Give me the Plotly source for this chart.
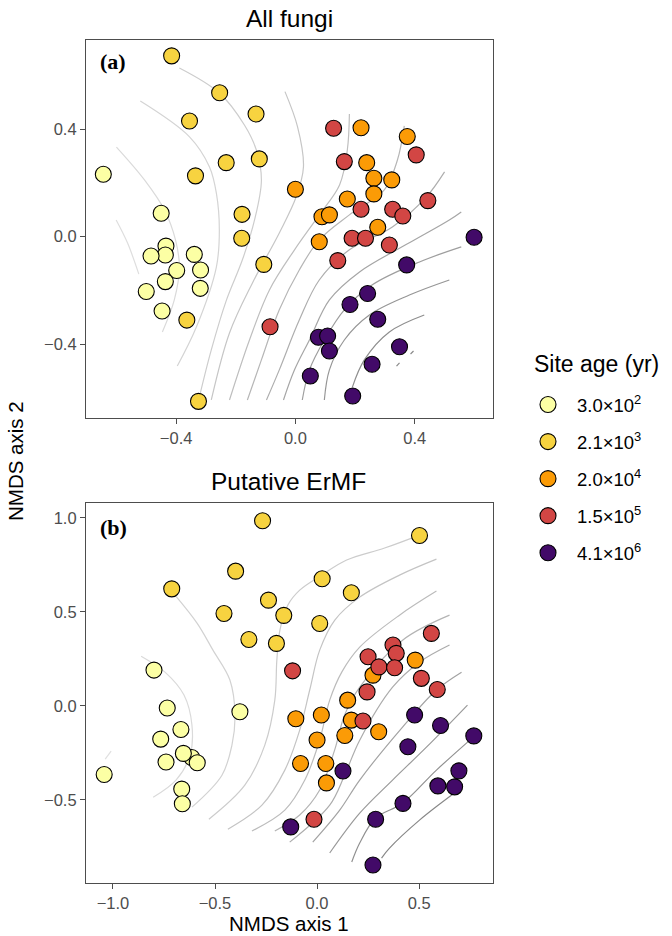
import plotly.graph_objects as go

# ---------------- data ----------------
age_labels = ["3.0×10<sup>2</sup>", "2.1×10<sup>3</sup>", "2.0×10<sup>4</sup>",
              "1.5×10<sup>5</sup>", "4.1×10<sup>6</sup>"]
age_colors = ["#FCFFA4", "#F7D340", "#FB9B06", "#D24644", "#420A68"]

# Panel (a) All fungi: NMDS scores per site-age group
a_x = [
    [-0.644, -0.450, -0.434, -0.436, -0.484, -0.339, -0.398, -0.318, -0.436, -0.319, -0.500, -0.447],
    [-0.415, -0.254, -0.132, -0.355, -0.232, -0.121, -0.335, -0.179, -0.180, -0.325, -0.106, -0.364],
    [0.000, 0.220, 0.375, 0.239, 0.263, 0.323, 0.263, 0.174, 0.089, 0.114, 0.276, 0.080],
    [0.128, 0.405, 0.164, 0.220, 0.326, 0.360, 0.444, 0.190, 0.235, 0.315, 0.142, -0.085],
    [0.373, 0.242, 0.183, 0.276, 0.077, 0.108, 0.114, 0.349, 0.257, 0.050, 0.192, 0.599],
]
a_y = [
    [0.232, 0.087, -0.035, -0.068, -0.072, -0.066, -0.126, -0.124, -0.167, -0.192, -0.204, -0.276],
    [0.672, 0.535, 0.456, 0.430, 0.275, 0.289, 0.226, 0.083, -0.006, -0.612, -0.103, -0.310],
    [0.176, 0.405, 0.372, 0.275, 0.217, 0.211, 0.159, 0.140, 0.074, 0.081, 0.035, -0.019],
    [0.403, 0.304, 0.279, 0.102, 0.102, 0.077, 0.134, -0.006, -0.006, -0.031, -0.089, -0.335],
    [-0.105, -0.211, -0.252, -0.307, -0.374, -0.369, -0.425, -0.409, -0.474, -0.518, -0.592, -0.002],
]

# Panel (b) Putative ErMF
b_x = [
    [-0.799, -0.378, -0.734, -0.667, -0.766, -0.740, -0.614, -0.655, -0.587, -0.663, -0.660, -1.043],
    [-0.267, 0.502, -0.399, -0.712, 0.025, 0.168, -0.238, -0.456, -0.163, 0.013, -0.334, -0.199],
    [-0.104, 0.021, 0.150, 0.000, 0.168, 0.136, 0.302, -0.081, 0.043, 0.046, 0.274, 0.481],
    [-0.120, 0.250, 0.372, 0.388, 0.303, 0.380, 0.245, 0.511, 0.225, -0.015, 0.560, 0.589],
    [-0.129, 0.127, 0.478, 0.445, 0.287, 0.421, 0.274, 0.592, 0.605, 0.768, 0.695, 0.674],
]
b_y = [
    [0.190, -0.032, -0.012, -0.126, -0.177, -0.299, -0.275, -0.253, -0.303, -0.443, -0.521, -0.365],
    [0.984, 0.906, 0.716, 0.622, 0.676, 0.601, 0.562, 0.491, 0.481, 0.438, 0.353, 0.332],
    [-0.069, -0.049, 0.030, -0.182, -0.076, -0.158, -0.138, -0.307, -0.307, -0.410, 0.163, 0.243],
    [0.186, 0.261, 0.323, 0.279, 0.207, 0.202, 0.074, 0.146, -0.081, -0.603, 0.385, 0.087],
    [-0.644, -0.347, -0.049, -0.218, -0.603, -0.519, -0.847, -0.426, -0.105, -0.160, -0.346, -0.431],
]

# Fitted site-age surface contours, light -> dark
a_contours = [
    ([-0.601, -0.563, -0.525], [0.062, -0.023, -0.139]),
    ([-0.600, -0.506, -0.439, -0.402, -0.389, -0.406, -0.446], [0.333, 0.211, 0.099, -0.012, -0.113, -0.235, -0.354]),
    ([-0.520, -0.355, -0.288, -0.265, -0.255, -0.265, -0.332, -0.396], [0.504, 0.371, 0.259, 0.162, 0.025, -0.113, -0.336, -0.481]),
    ([-0.389, -0.255, -0.171, -0.131, -0.114, -0.137, -0.178, -0.231, -0.282, -0.322], [0.627, 0.534, 0.415, 0.322, 0.211, 0.062, -0.087, -0.235, -0.421, -0.596]),
    ([-0.035, 0.007, 0.027, 0.003, -0.054, -0.144, -0.221, -0.282], [0.539, 0.409, 0.260, 0.149, 0.014, -0.172, -0.358, -0.607]),
    ([0.181, 0.174, 0.148, 0.080, -0.003, -0.087, -0.154, -0.221], [0.456, 0.322, 0.192, 0.081, -0.049, -0.198, -0.384, -0.607]),
    ([0.365, 0.342, 0.298, 0.181, 0.080, 0.013, -0.054, -0.114, -0.161], [0.412, 0.285, 0.174, 0.081, -0.012, -0.124, -0.272, -0.458, -0.607]),
    ([0.500, 0.439, 0.325, 0.181, 0.080, 0.013, -0.054, -0.097], [0.241, 0.148, 0.036, -0.049, -0.161, -0.310, -0.495, -0.607]),
    ([0.556, 0.516, 0.382, 0.215, 0.114, 0.047, -0.003, -0.040], [0.092, 0.062, -0.023, -0.131, -0.235, -0.384, -0.495, -0.607]),
    ([0.556, 0.416, 0.258, 0.164, 0.097, 0.047, 0.023], [-0.038, -0.094, -0.179, -0.272, -0.384, -0.495, -0.607]),
    ([0.516, 0.382, 0.248, 0.164, 0.114, 0.097], [-0.161, -0.217, -0.291, -0.384, -0.495, -0.607]),
    ([0.432, 0.315, 0.231, 0.191], [-0.291, -0.354, -0.458, -0.559]),
    ([0.386, 0.396], [-0.436, -0.425]),
    ([0.339, 0.349], [-0.481, -0.469]),
]
a_contour_grey = [222, 218, 212, 205, 198, 190, 182, 174, 166, 158, 150, 142, 136, 136]

b_contours = [
    ([-1.038, -1.009], [-0.284, -0.241]),
    ([-0.862, -0.745, -0.652, -0.613, -0.622, -0.691, -0.803], [0.264, 0.179, 0.057, -0.103, -0.262, -0.395, -0.486]),
    ([-0.696, -0.588, -0.510, -0.427, -0.402, -0.417, -0.466, -0.613], [0.589, 0.440, 0.296, 0.137, -0.049, -0.209, -0.369, -0.539]),
    ([0.502, 0.331, 0.145, 0.023, -0.085, -0.143, -0.182, -0.197, -0.207, -0.256, -0.354, -0.530], [0.908, 0.839, 0.775, 0.695, 0.615, 0.536, 0.403, 0.243, 0.030, -0.209, -0.422, -0.603]),
    ([0.585, 0.404, 0.209, 0.087, 0.013, -0.036, -0.085, -0.158, -0.270, -0.437], [0.780, 0.695, 0.578, 0.456, 0.296, 0.084, -0.129, -0.342, -0.528, -0.656]),
    ([0.585, 0.404, 0.209, 0.121, 0.062, 0.013, -0.060, -0.158, -0.319], [0.610, 0.482, 0.312, 0.179, 0.030, -0.182, -0.395, -0.555, -0.666]),
    ([0.649, 0.419, 0.209, 0.135, 0.086, 0.013, -0.085, -0.207], [0.482, 0.349, 0.099, -0.049, -0.236, -0.448, -0.581, -0.666]),
    ([0.649, 0.502, 0.370, 0.209, 0.135, 0.062, -0.134], [0.323, 0.232, 0.099, -0.183, -0.369, -0.528, -0.725]),
    ([0.708, 0.585, 0.419, 0.209, 0.111, -0.021], [0.179, 0.084, -0.113, -0.395, -0.555, -0.725]),
    ([0.737, 0.536, 0.370, 0.209, 0.062], [0.004, -0.220, -0.395, -0.571, -0.783]),
    ([0.771, 0.585, 0.419, 0.287, 0.209, 0.170], [-0.161, -0.342, -0.518, -0.597, -0.730, -0.831]),
    ([0.673, 0.502, 0.355, 0.316], [-0.464, -0.608, -0.757, -0.810]),
]
b_contour_grey = [224, 218, 210, 204, 196, 188, 180, 172, 163, 154, 145, 136]

# ---------------- figure ----------------
FONT = "Liberation Sans, Arial, sans-serif"
fig = go.Figure()

for (cx, cy), g in zip(a_contours, a_contour_grey):
    fig.add_trace(go.Scatter(x=cx, y=cy, mode="lines", xaxis="x", yaxis="y",
                             line=dict(color=f"rgb({g},{g},{g})", width=1.2, shape="spline"),
                             showlegend=False, hoverinfo="skip"))
for (cx, cy), g in zip(b_contours, b_contour_grey):
    fig.add_trace(go.Scatter(x=cx, y=cy, mode="lines", xaxis="x2", yaxis="y2",
                             line=dict(color=f"rgb({g},{g},{g})", width=1.2, shape="spline"),
                             showlegend=False, hoverinfo="skip"))

for i, (lab, col) in enumerate(zip(age_labels, age_colors)):
    fig.add_trace(go.Scatter(x=a_x[i], y=a_y[i], mode="markers", xaxis="x", yaxis="y",
                             name=lab, legendgroup=lab, showlegend=True,
                             marker=dict(size=16, color=col, line=dict(color="black", width=1.1))))
for i, (lab, col) in enumerate(zip(age_labels, age_colors)):
    fig.add_trace(go.Scatter(x=b_x[i], y=b_y[i], mode="markers", xaxis="x2", yaxis="y2",
                             name=lab, legendgroup=lab, showlegend=False,
                             marker=dict(size=16, color=col, line=dict(color="black", width=1.1))))

axis_common = dict(showgrid=False, zeroline=False, showline=True, mirror=True,
                   linecolor="#4d4d4d", linewidth=1.2, ticks="outside", ticklen=5,
                   tickcolor="#4d4d4d", tickwidth=1.1,
                   tickfont=dict(family=FONT, size=16.5, color="#4d4d4d"))

fig.update_layout(
    width=672, height=936,
    margin=dict(l=0, r=0, t=0, b=0),
    paper_bgcolor="white", plot_bgcolor="white",
    font=dict(family=FONT, color="black"),
    xaxis=dict(domain=[0.128, 0.733], range=[-0.702, 0.661], anchor="y",
               tickvals=[-0.4, 0.0, 0.4], ticktext=["−0.4", "0.0", "0.4"], **axis_common),
    yaxis=dict(domain=[0.5534, 0.9573], range=[-0.674, 0.731], anchor="x",
               tickvals=[-0.4, 0.0, 0.4], ticktext=["−0.4", "0.0", "0.4"], **axis_common),
    xaxis2=dict(domain=[0.128, 0.733], range=[-1.132, 0.860], anchor="y2",
                tickvals=[-1.0, -0.5, 0.0, 0.5], ticktext=["−1.0", "−0.5", "0.0", "0.5"], **axis_common),
    yaxis2=dict(domain=[0.0569, 0.4623], range=[-0.941, 1.077], anchor="x2",
                tickvals=[-0.5, 0.0, 0.5, 1.0], ticktext=["−0.5", "0.0", "0.5", "1.0"], **axis_common),
    legend=dict(x=519 / 672, y=1 - 386 / 936, xanchor="left", yanchor="top",
                itemwidth=48, tracegroupgap=10, bgcolor="rgba(0,0,0,0)",
                font=dict(family=FONT, size=18.5, color="black")),
    showlegend=True,
)

ann = [
    dict(text="All fungi", x=289 / 672, y=1 - 18 / 936, font=dict(size=24.5)),
    dict(text="Putative ErMF", x=288 / 672, y=1 - 481.5 / 936, font=dict(size=24.5)),
    dict(text="NMDS axis 1", x=289 / 672, y=1 - 923 / 936, font=dict(size=20.5)),
    dict(text="NMDS axis 2", x=15 / 672, y=1 - 461 / 936, font=dict(size=20.5), textangle=-90),
    dict(text="Site age (yr)", x=531.5 / 672, y=1 - 364 / 936, font=dict(size=23)),
    dict(text="<b>(a)</b>", x=98 / 672, y=1 - 62 / 936,
         font=dict(size=22, family="Liberation Serif, Times New Roman, serif")),
    dict(text="<b>(b)</b>", x=98 / 672, y=1 - 527 / 936,
         font=dict(size=22, family="Liberation Serif, Times New Roman, serif")),
]
for a in ann:
    a.setdefault("xanchor", "left" if a["text"] in ("Site age (yr)", "<b>(a)</b>", "<b>(b)</b>") else "center")
    a["font"].setdefault("family", FONT)
    a["font"].setdefault("color", "black")
    fig.add_annotation(xref="paper", yref="paper", yanchor="middle", showarrow=False, **a)

fig.write_html("out.html",
               config={"displayModeBar": False, "staticPlot": False},
               post_script="document.body.style.margin='0';document.body.style.padding='0';")
